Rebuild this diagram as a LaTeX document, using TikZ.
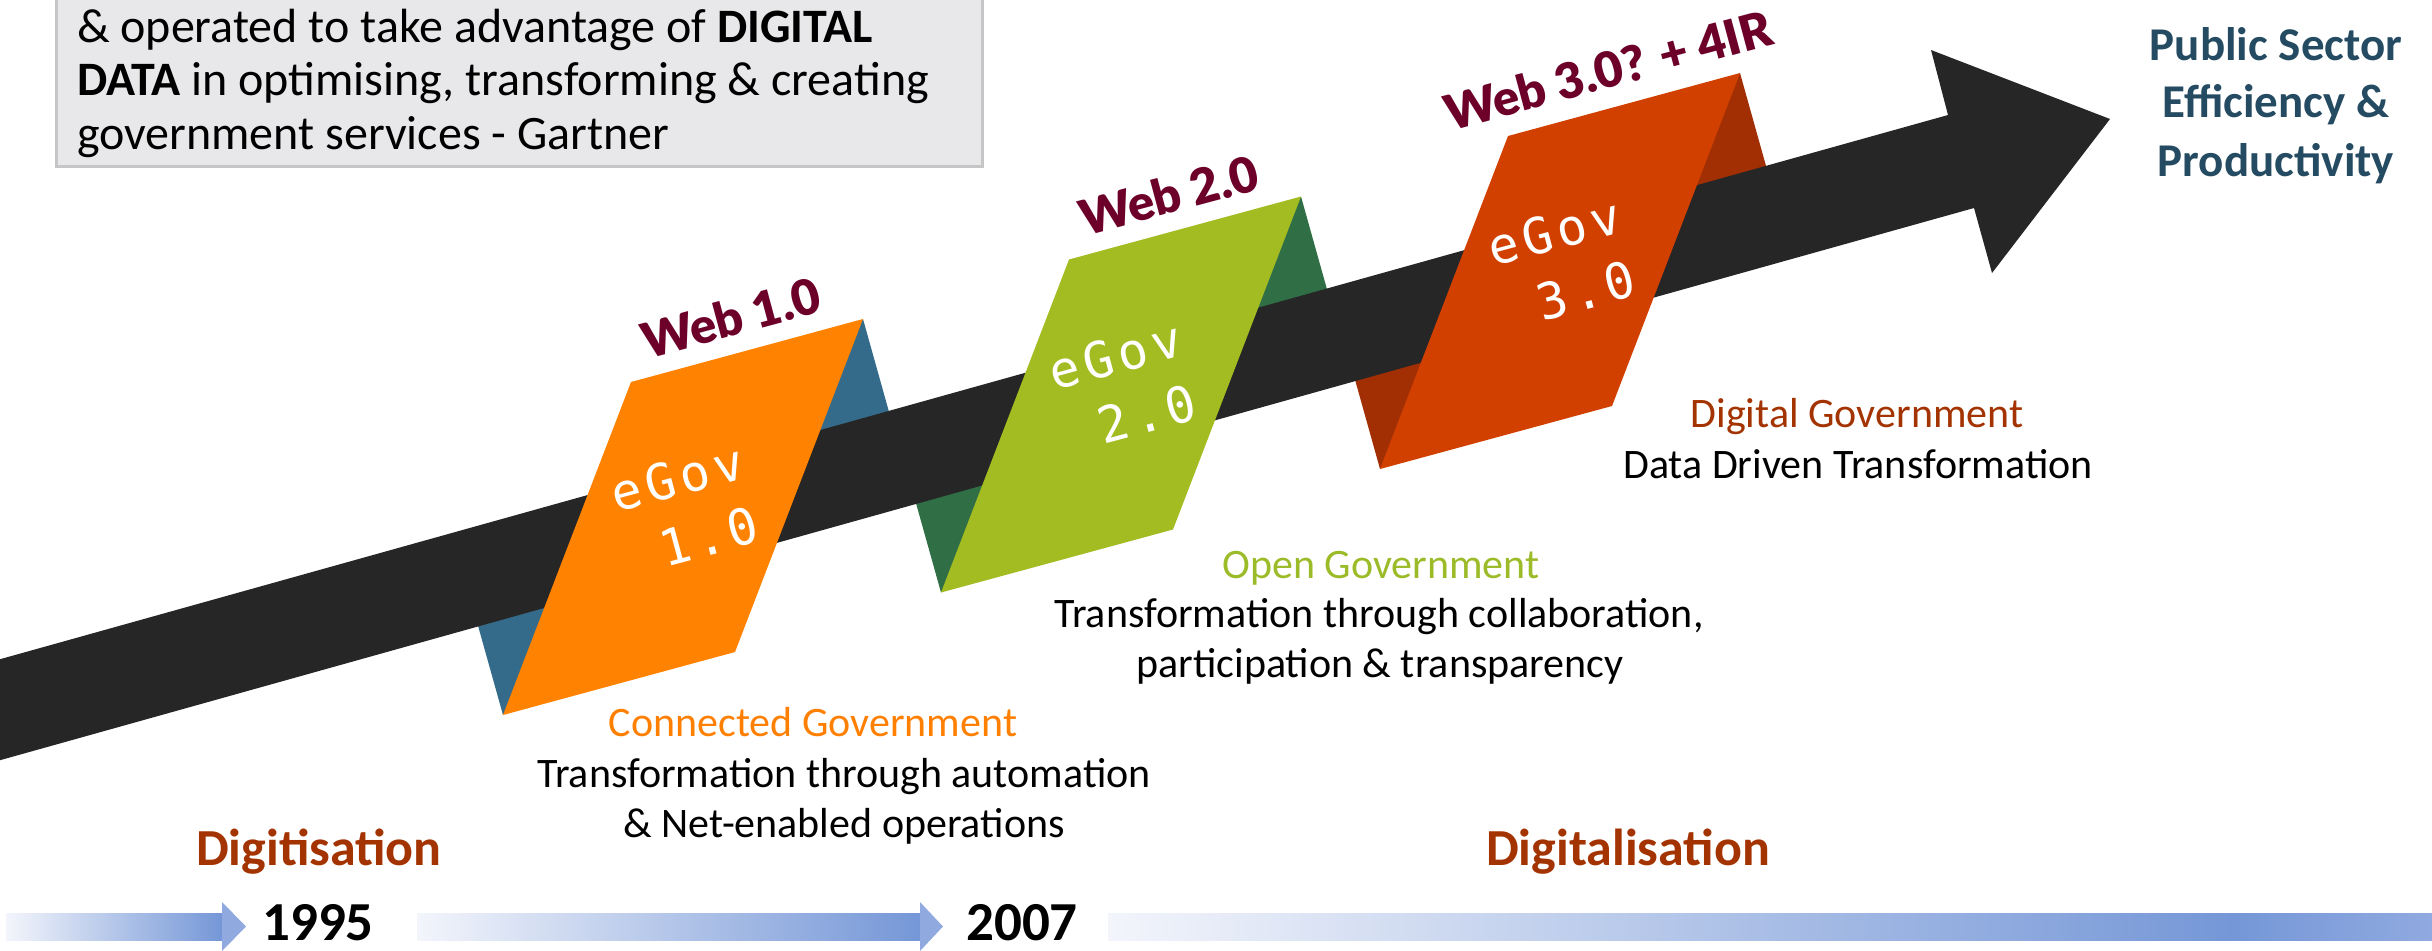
\documentclass[tikz,border=0pt]{standalone}
\usepackage{fontspec}
\setmainfont{Carlito}
\newfontfamily\webfont{Lato Black}
\newfontfamily\egovfont{DejaVu Sans Mono}[LetterSpace=10]
\usetikzlibrary{calc}
\definecolor{shaftc}{HTML}{262626}
\definecolor{cardA}{HTML}{FF8300}
\definecolor{backA}{HTML}{356B8A}
\definecolor{cardB}{HTML}{A2BC22}
\definecolor{backB}{HTML}{306F46}
\definecolor{cardC}{HTML}{D24000}
\definecolor{backC}{HTML}{A22F04}
\definecolor{maroon}{HTML}{6C0029}
\definecolor{rust}{HTML}{A33300}
\definecolor{orangeT}{HTML}{FF8000}
\definecolor{greenT}{HTML}{9CBB28}
\definecolor{pubblue}{HTML}{244B62}
\definecolor{boxfill}{HTML}{E8E8EA}
\definecolor{boxline}{HTML}{C6C6C6}
\definecolor{arrL}{HTML}{F3F5FB}
\definecolor{arrD}{HTML}{7597D7}
\definecolor{arrH}{HTML}{90AAE0}
\begin{document}
\begin{tikzpicture}[x=0.5pt,y=-0.5pt,
  txt/.style={inner sep=0pt, outer sep=0pt},
  body/.style={txt, anchor=base, font={\fontsize{21pt}{25pt}\selectfont}},
  boxtext/.style={txt, anchor=base west, font={\fontsize{24pt}{27pt}\selectfont}},
  pubs/.style={txt, anchor=base, text=pubblue, font={\fontsize{23.5pt}{28pt}\selectfont\bfseries}},
  era/.style={txt, anchor=base, text=rust, font={\fontsize{26pt}{30pt}\selectfont\bfseries}},
  year/.style={txt, anchor=base, font={\fontsize{27.5pt}{30pt}\selectfont\bfseries}},
  weblabel/.style={txt, anchor=base west, rotate=15, text=maroon, font={\fontsize{24.5pt}{26pt}\webfont}},
  egov/.style={txt, anchor=center, rotate=15, align=center, text=white, font={\fontsize{25pt}{32.5pt}\egovfont}}
]
\useasboundingbox (0,0) rectangle (2432,950);
\clip (0,0) rectangle (2432,950);

% card centres
\coordinate (C1) at (683,517);
\coordinate (C2) at (1121,394.5);
\coordinate (C3) at (1560,271);

% back panels
\fill[backA] ($(C1)+(180,-198)$) -- ($(C1)+(222,-48)$) -- ($(C1)+(-222,48)$) -- ($(C1)+(-180,198)$) -- cycle;
\fill[backB] ($(C2)+(180,-198)$) -- ($(C2)+(222,-48)$) -- ($(C2)+(-222,48)$) -- ($(C2)+(-180,198)$) -- cycle;
\fill[backC] ($(C3)+(180,-198)$) -- ($(C3)+(222,-48)$) -- ($(C3)+(-222,48)$) -- ($(C3)+(-180,198)$) -- cycle;

% big arrow
\fill[shaftc] (-10,662) -- (1948,115) -- (1931,50) -- (2110,119) -- (1992,273) -- (1974,208) -- (-10,763) -- cycle;

% cards
\fill[cardA] ($(C1)+(-52,-135)$) -- ($(C1)+(180,-198)$) -- ($(C1)+(52,135)$) -- ($(C1)+(-180,198)$) -- cycle;
\fill[cardB] ($(C2)+(-52,-135)$) -- ($(C2)+(180,-198)$) -- ($(C2)+(52,135)$) -- ($(C2)+(-180,198)$) -- cycle;
\fill[cardC] ($(C3)+(-52,-135)$) -- ($(C3)+(180,-198)$) -- ($(C3)+(52,135)$) -- ($(C3)+(-180,198)$) -- cycle;

% card texts
\node[egov] (e1) at ($(C1)+(3,-8)$) {eGov\\\hspace*{0.6em}1.0};
\node[egov] (e2) at ($(C2)+(3,-8)$) {eGov\\\hspace*{0.6em}2.0};
\node[egov] (e3) at ($(C3)+(3,-8)$) {eGov\\\hspace*{0.6em}3.0};

% web labels
\node[weblabel] (w1) at ($(C1)+(-36,-158)$) {Web 1.0};
\node[weblabel] (w2) at ($(C2)+(-36,-158)$) {Web 2.0};
\node[weblabel] (w3) at ($(C3)+(-110,-140)$) {Web 3.0? + 4IR};

% gray quote box
\draw[fill=boxfill, draw=boxline, line width=1.5pt] (56,-20) rectangle (982,166);
\node[boxtext] (q1) at (77,42) {\& operated to take advantage of \textbf{DIGITAL}};
\node[boxtext] (q2) at (77,95.5) {\textbf{DATA} in optimising, transforming \& creating};
\node[boxtext] (q3) at (77,149) {government services - Gartner};

% outcome
\node[pubs] (p1) at (2276,60) {Public Sector};
\node[pubs] (p2) at (2276,117) {Efficiency \&};
\node[pubs] (p3) at (2276,176.5) {Productivity};

% descriptions
\node[body, text=orangeT] (cg) at (813,736) {Connected Government};
\node[body] (cg1) at (844,787) {Transformation through automation};
\node[body] (cg2) at (844,837) {\& Net-enabled operations};
\node[body, text=greenT] (og) at (1381,578) {Open Government};
\node[body] (og1) at (1379,627) {Transformation through collaboration,};
\node[body] (og2) at (1380,677) {participation \& transparency};
\node[body, text=rust] (dg) at (1857,427) {Digital Government};
\node[body] (dg1) at (1858,478) {Data Driven Transformation};

% eras
\node[era] (d1) at (319,865) {Digitisation};
\node[era] (d2) at (1628,865) {Digitalisation};

% timeline arrows
\shade[left color=arrL, right color=arrD] (6,913) rectangle (222,940);
\fill[arrH] (222,902) -- (246,926.5) -- (222,951) -- cycle;
\shade[left color=arrL, right color=arrD] (417,913) rectangle (920,940);
\fill[arrH] (920,902) -- (943,926.5) -- (920,951) -- cycle;
\shade[left color=arrL, right color=arrD] (1108,913) rectangle (2233,940);
\shade[left color=arrD, right color=arrH] (2233,913) rectangle (2433,940);

\node[year] (y1) at (318,940) {1995};
\node[year] (y2) at (1022,940) {2007};
\end{tikzpicture}
\end{document}
